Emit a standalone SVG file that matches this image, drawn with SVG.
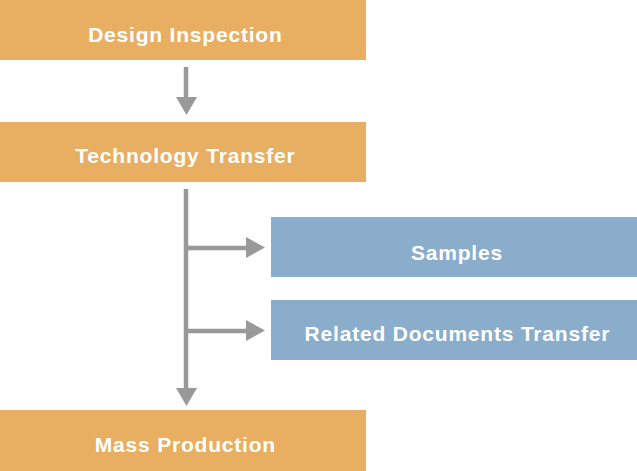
<svg xmlns="http://www.w3.org/2000/svg" width="637" height="471" viewBox="0 0 637 471">
<style>
.o{fill:#E8AF62}
.b{fill:#8AADCC}
.t{font-family:"Liberation Sans",Arial,sans-serif;font-weight:bold;font-size:21px;letter-spacing:0.8px;fill:#fff;text-anchor:middle}
.c{stroke:#999;stroke-width:4.5;fill:none}
.h{fill:#999}
</style>
<g id="connectors">
<line class="c" x1="186" y1="67" x2="186" y2="98"/>
<polygon class="h" points="176,97 197,97 186.5,115"/>
<line class="c" x1="186" y1="189" x2="186" y2="389"/>
<polygon class="h" points="176,388 197,388 186.5,406"/>
<line class="c" x1="186" y1="248" x2="248" y2="248"/>
<polygon class="h" points="246,237 246,258 265,247.5"/>
<line class="c" x1="186" y1="331" x2="248" y2="331"/>
<polygon class="h" points="246,320 246,341 265,330.5"/>
</g>
<g id="design"><rect class="o" x="0" y="0" width="366" height="60"/><text class="t" x="185.4" y="42">Design Inspection</text></g>
<g id="tech"><rect class="o" x="0" y="122" width="366" height="60"/><text class="t" x="185.4" y="163">Technology Transfer</text></g>
<g id="samples"><rect class="b" x="271" y="217" width="366" height="60"/><text class="t" x="456.9" y="260">Samples</text></g>
<g id="docs"><rect class="b" x="271" y="300" width="366" height="60"/><text class="t" x="457.4" y="341">Related Documents Transfer</text></g>
<g id="mass"><rect class="o" x="0" y="410" width="366" height="61"/><text class="t" x="185.4" y="452">Mass Production</text></g>
</svg>
